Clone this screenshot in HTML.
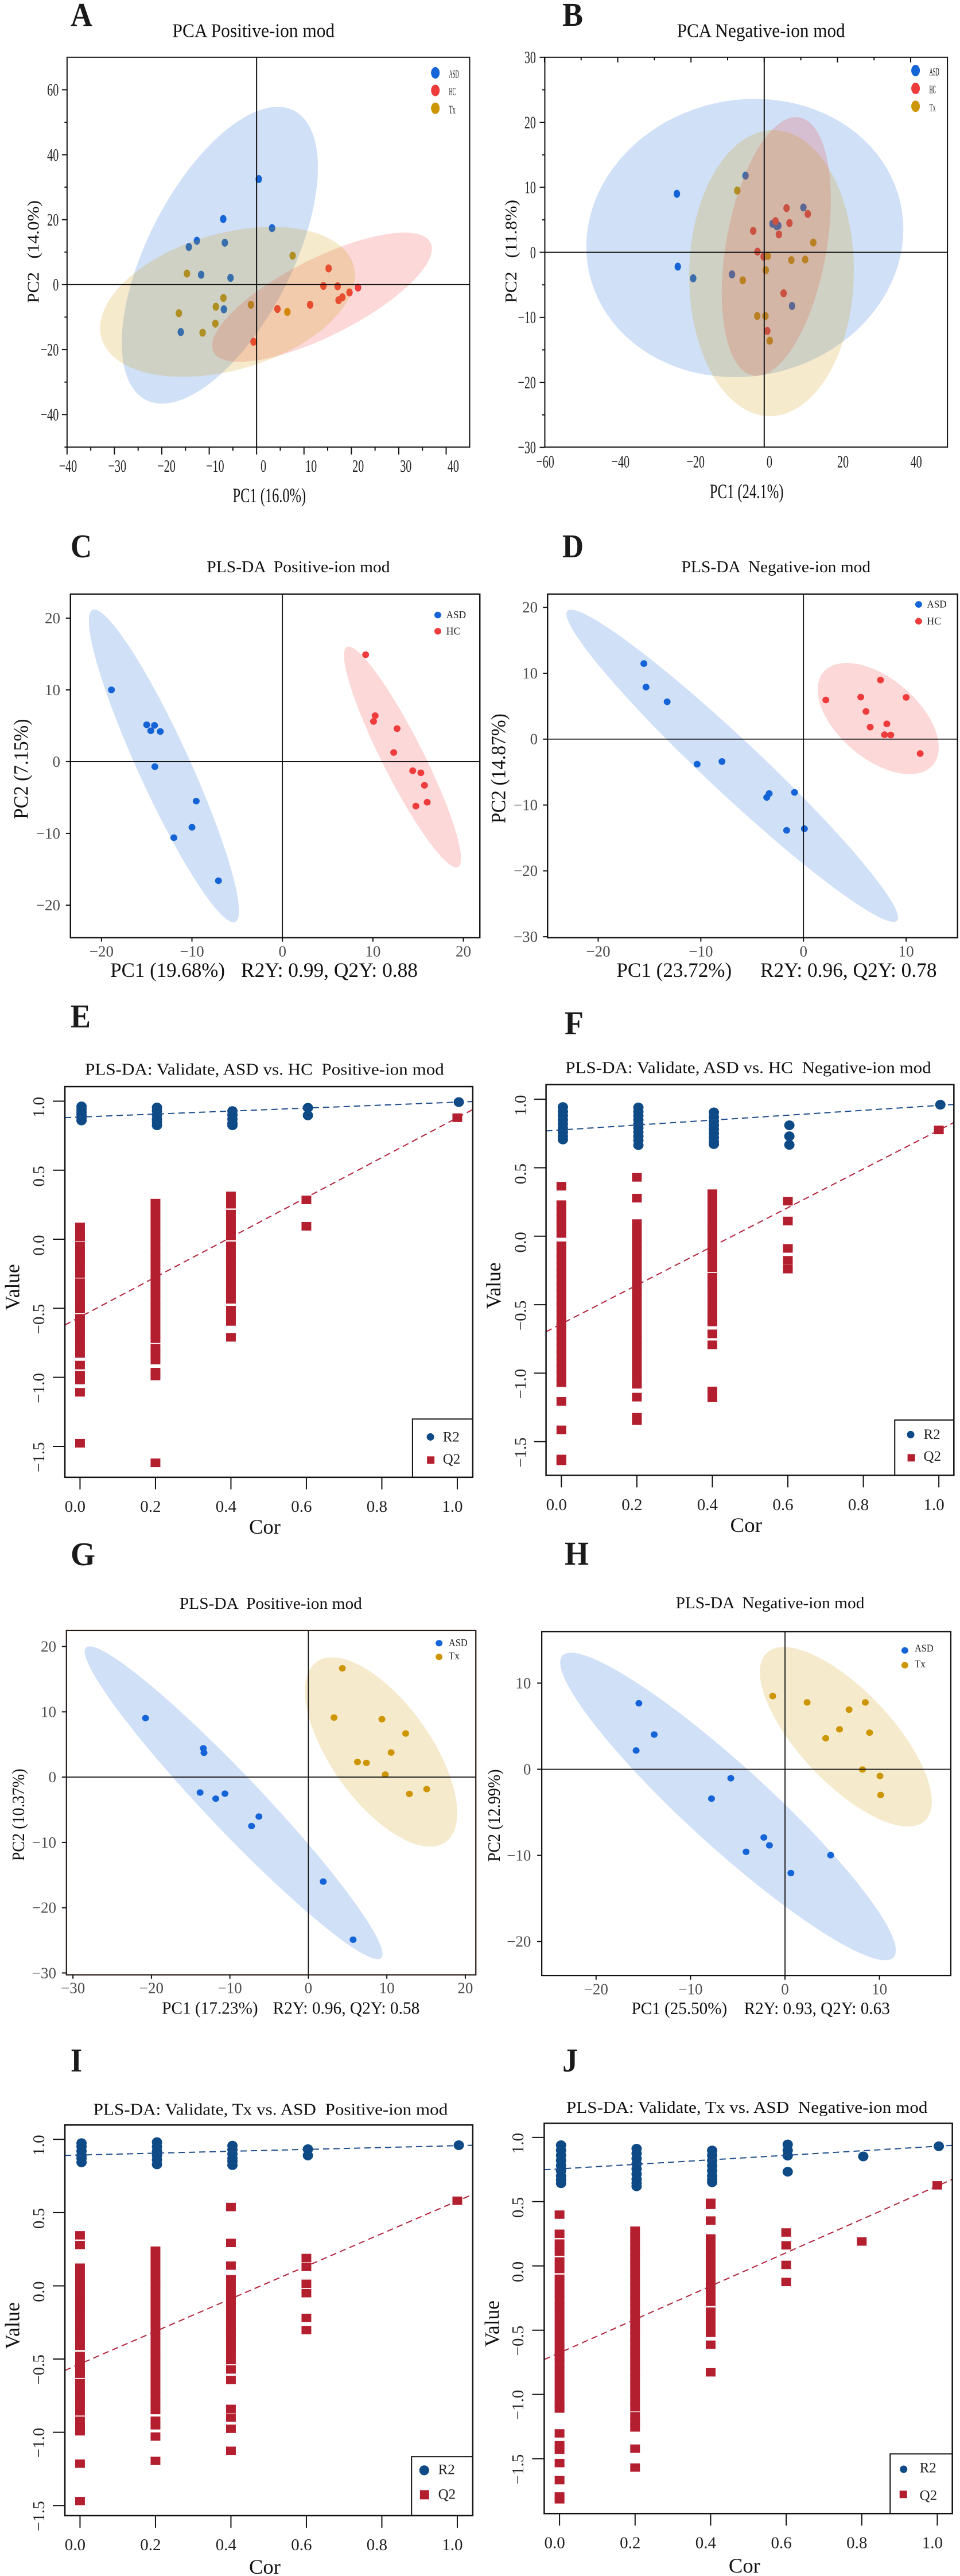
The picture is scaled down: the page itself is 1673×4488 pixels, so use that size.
<!DOCTYPE html>
<html lang="en">
<head>
<meta charset="utf-8">
<title>PCA and PLS-DA panels</title>
<style>
html,body{margin:0;padding:0;background:#fff;width:1673px;height:4488px;overflow:hidden}
svg{display:block;font-family:"Liberation Serif","Noto Serif CJK SC",serif}
text{fill:#111}
.letter{font-size:58px;font-weight:bold;fill:#1a1a1a}
.title{font-size:29px}
.axt{font-size:36px}
.leg{font-size:20px}
.leg2{font-size:18px;fill:#222}
.leg3{font-size:25px;fill:#222}
</style>
</head>
<body>
<svg id="figure" width="1673" height="4488" viewBox="0 0 1673 4488">
<rect width="1673" height="4488" fill="#fff"/>
<g id="plots"></g>
<g>
<text class="letter" x="123" y="45" textLength="38" lengthAdjust="spacingAndGlyphs">A</text>
<text class="letter" x="980" y="45" textLength="36" lengthAdjust="spacingAndGlyphs">B</text>
<text class="letter" x="123" y="971" textLength="37" lengthAdjust="spacingAndGlyphs">C</text>
<text class="letter" x="980" y="971" textLength="37" lengthAdjust="spacingAndGlyphs">D</text>
<text class="letter" x="123" y="1790" textLength="35" lengthAdjust="spacingAndGlyphs">E</text>
<text class="letter" x="984" y="1802" textLength="33" lengthAdjust="spacingAndGlyphs">F</text>
<text class="letter" x="123" y="2727" textLength="43" lengthAdjust="spacingAndGlyphs">G</text>
<text class="letter" x="984" y="2726" textLength="42" lengthAdjust="spacingAndGlyphs">H</text>
<text class="letter" x="123" y="3609" textLength="20" lengthAdjust="spacingAndGlyphs">I</text>
<text class="letter" x="980" y="3609" textLength="27" lengthAdjust="spacingAndGlyphs">J</text>
</g>
<g>
<text class="title" style="font-size:34px" x="300.5" y="64.6" textLength="282.7" lengthAdjust="spacingAndGlyphs">PCA Positive-ion mod</text>
<text class="title" style="font-size:34px" x="1179.6" y="64.6" textLength="293.2" lengthAdjust="spacingAndGlyphs">PCA Negative-ion mod</text>
<text class="title" xml:space="preserve" style="white-space:pre" x="360.3" y="997.2" textLength="319.3" lengthAdjust="spacingAndGlyphs">PLS-DA  Positive-ion mod</text>
<text class="title" xml:space="preserve" style="white-space:pre" x="1187.6" y="997.2" textLength="329.5" lengthAdjust="spacingAndGlyphs">PLS-DA  Negative-ion mod</text>
<text class="title" xml:space="preserve" style="white-space:pre" x="148.1" y="1872.3" textLength="625.7" lengthAdjust="spacingAndGlyphs">PLS-DA: Validate, ASD vs. HC  Positive-ion mod</text>
<text class="title" xml:space="preserve" style="white-space:pre" x="985.2" y="1869.4" textLength="637.6" lengthAdjust="spacingAndGlyphs">PLS-DA: Validate, ASD vs. HC  Negative-ion mod</text>
<text class="title" xml:space="preserve" style="white-space:pre" x="312.9" y="2803" textLength="318" lengthAdjust="spacingAndGlyphs">PLS-DA  Positive-ion mod</text>
<text class="title" xml:space="preserve" style="white-space:pre" x="1177.5" y="2801.9" textLength="328.9" lengthAdjust="spacingAndGlyphs">PLS-DA  Negative-ion mod</text>
<text class="title" xml:space="preserve" style="white-space:pre" x="162.6" y="3684.6" textLength="617.7" lengthAdjust="spacingAndGlyphs">PLS-DA: Validate, Tx vs. ASD  Positive-ion mod</text>
<text class="title" xml:space="preserve" style="white-space:pre" x="986.9" y="3681" textLength="629.6" lengthAdjust="spacingAndGlyphs">PLS-DA: Validate, Tx vs. ASD  Negative-ion mod</text>
</g>
<g>
<text class="axt" x="405.5" y="875" textLength="127.6" lengthAdjust="spacingAndGlyphs">PC1 (16.0%)</text>
<text class="axt" xml:space="preserve" style="font-size:28px;white-space:pre" transform="translate(67.3,527.9) rotate(-90)" textLength="178.8" lengthAdjust="spacingAndGlyphs">PC2   (14.0%)</text>
<text class="axt" x="1236.8" y="868.2" textLength="128.7" lengthAdjust="spacingAndGlyphs">PC1 (24.1%)</text>
<text class="axt" xml:space="preserve" style="font-size:28px;white-space:pre" transform="translate(899.8,527.9) rotate(-90)" textLength="180" lengthAdjust="spacingAndGlyphs">PC2   (11.8%)</text>
<text class="axt" x="192.2" y="1701.8" textLength="199.8" lengthAdjust="spacingAndGlyphs">PC1 (19.68%)</text>
<text class="axt" x="420" y="1701.8" textLength="308" lengthAdjust="spacingAndGlyphs">R2Y: 0.99, Q2Y: 0.88</text>
<text class="axt" transform="translate(48.5,1426.9) rotate(-90)" textLength="174.4" lengthAdjust="spacingAndGlyphs">PC2 (7.15%)</text>
<text class="axt" x="1074.4" y="1701.8" textLength="200.8" lengthAdjust="spacingAndGlyphs">PC1 (23.72%)</text>
<text class="axt" x="1324.9" y="1701.8" textLength="307.6" lengthAdjust="spacingAndGlyphs">R2Y: 0.96, Q2Y: 0.78</text>
<text class="axt" transform="translate(880.6,1434.6) rotate(-90)" textLength="191.3" lengthAdjust="spacingAndGlyphs">PC2 (14.87%)</text>
<text class="axt" x="434" y="2672" textLength="54.9" lengthAdjust="spacingAndGlyphs">Cor</text>
<text class="axt" transform="translate(33.4,2283) rotate(-90)" textLength="80.8" lengthAdjust="spacingAndGlyphs">Value</text>
<text class="axt" x="1272.5" y="2669" textLength="55.5" lengthAdjust="spacingAndGlyphs">Cor</text>
<text class="axt" transform="translate(872,2280.2) rotate(-90)" textLength="80.8" lengthAdjust="spacingAndGlyphs">Value</text>
<text class="axt" style="font-size:31px" x="282.2" y="3508.3" textLength="167.5" lengthAdjust="spacingAndGlyphs">PC1 (17.23%)</text>
<text class="axt" style="font-size:31px" x="475.5" y="3508.3" textLength="255.8" lengthAdjust="spacingAndGlyphs">R2Y: 0.96, Q2Y: 0.58</text>
<text class="axt" style="font-size:31px" transform="translate(42,3242.3) rotate(-90)" textLength="160.8" lengthAdjust="spacingAndGlyphs">PC2 (10.37%)</text>
<text class="axt" style="font-size:31px" x="1100.6" y="3509" textLength="166.6" lengthAdjust="spacingAndGlyphs">PC1 (25.50%)</text>
<text class="axt" style="font-size:31px" x="1296.6" y="3509" textLength="254.2" lengthAdjust="spacingAndGlyphs">R2Y: 0.93, Q2Y: 0.63</text>
<text class="axt" style="font-size:31px" transform="translate(871,3243.3) rotate(-90)" textLength="160.8" lengthAdjust="spacingAndGlyphs">PC2 (12.99%)</text>
<text class="axt" x="434" y="4484" textLength="54.9" lengthAdjust="spacingAndGlyphs">Cor</text>
<text class="axt" transform="translate(33.4,4093) rotate(-90)" textLength="82" lengthAdjust="spacingAndGlyphs">Value</text>
<text class="axt" x="1269.9" y="4482" textLength="55" lengthAdjust="spacingAndGlyphs">Cor</text>
<text class="axt" transform="translate(869.4,4088.8) rotate(-90)" textLength="80.8" lengthAdjust="spacingAndGlyphs">Value</text>
</g>
<g id="legend-labels">
<text class="leg" x="782.5" y="135.6" textLength="17.2" lengthAdjust="spacingAndGlyphs">ASD</text>
<text class="leg" x="782.5" y="166.1" textLength="11.8" lengthAdjust="spacingAndGlyphs">HC</text>
<text class="leg" x="782.5" y="197.3" textLength="11.3" lengthAdjust="spacingAndGlyphs">Tx</text>
<text class="leg" x="1619.6" y="131.5" textLength="17.1" lengthAdjust="spacingAndGlyphs">ASD</text>
<text class="leg" x="1619.6" y="162.7" textLength="11.2" lengthAdjust="spacingAndGlyphs">HC</text>
<text class="leg" x="1619.6" y="193.8" textLength="11.2" lengthAdjust="spacingAndGlyphs">Tx</text>
<text class="leg2" x="777.6" y="1077.2" textLength="34.5" lengthAdjust="spacingAndGlyphs">ASD</text>
<text class="leg2" x="777.6" y="1105.4" textLength="24.8" lengthAdjust="spacingAndGlyphs">HC</text>
<text class="leg2" x="1615.4" y="1058.7" textLength="34.2" lengthAdjust="spacingAndGlyphs">ASD</text>
<text class="leg2" x="1615.4" y="1087.9" textLength="24.6" lengthAdjust="spacingAndGlyphs">HC</text>
<text class="leg2" x="781.9" y="2868.2" textLength="32.8" lengthAdjust="spacingAndGlyphs">ASD</text>
<text class="leg2" x="781.9" y="2891" textLength="18.8" lengthAdjust="spacingAndGlyphs">Tx</text>
<text class="leg2" x="1594" y="2877.4" textLength="32.6" lengthAdjust="spacingAndGlyphs">ASD</text>
<text class="leg2" x="1594" y="2905.2" textLength="18.7" lengthAdjust="spacingAndGlyphs">Tx</text>
<text class="leg3" x="771.7" y="2511.5">R2</text>
<text class="leg3" x="771.7" y="2550.2">Q2</text>
<text class="leg3" x="1609.5" y="2506.9">R2</text>
<text class="leg3" x="1609.5" y="2545">Q2</text>
<text class="leg3" x="763.6" y="4310.6">R2</text>
<text class="leg3" x="763.6" y="4353.7">Q2</text>
<text class="leg3" x="1602.6" y="4307.5">R2</text>
<text class="leg3" x="1602.6" y="4355.5">Q2</text>
</g>
</svg>
<script>
/* ---------- axis tick values ---------- */
const xTicksA=[-40,-30,-20,-10,0,10,20,30,40];
const yTicksA=[-40,-20,0,20,40,60];
const xTicksB=[-60,-40,-20,0,20,40];
const yTicksB=[-30,-20,-10,0,10,20,30];
const xTicksC=[-20,-10,0,10,20];
const yTicksC=[-20,-10,0,10,20];
const xTicksD=[-20,-10,0,10];
const yTicksD=[-30,-20,-10,0,10,20];
const xTicksG=[-30,-20,-10,0,10,20];
const yTicksG=[-30,-20,-10,0,10,20];
const xTicksH=[-20,-10,0,10];
const yTicksH=[-20,-10,0,10];
const corLevels=[0,0.2,0.4,0.6,0.8,1];
const valueTicksE=[-1.5,-1,-0.5,0,0.5,1];

/* ---------- PCA positive (A) ---------- */
const aAsdX=[0.46,-7.04,3.26,-12.6,-6.7,-14.3,-11.7,-5.5,-6.9,-16.0];
const aAsdY=[32.5,20.2,17.4,13.5,12.9,11.6,3.05,2.1,-7.6,-14.6];
const aHcX=[15.2,14.1,17.1,21.4,19.6,18.1,17.3,11.3,4.4,-0.65];
const aHcY=[5.0,-0.4,-0.5,-0.9,-2.4,-3.9,-4.8,-6.2,-7.5,-17.6];
const aTxX=[7.6,-14.7,-7.0,-8.6,-16.4,-1.2,6.5,-8.7,-11.4];
const aTxY=[8.9,3.4,-4.1,-6.8,-8.8,-6.2,-8.4,-12.0,-14.8];
const aAsdEllipse=[-7.76,9.06,20.7,45.7,0.59];
const aHcEllipse=[13.8,-3.87,23.2,19.9,0.75];
const aTxEllipse=[-6.13,-5.3,26.9,23.1,0.35];

/* ---------- PCA negative (B) ---------- */
const bAsdX=[-5.1,-23.85,10.7,2.26,3.43,3.85,-23.6,-19.4,-8.8,7.6];
const bAsdY=[11.8,9.0,6.9,4.4,4.0,4.1,-2.2,-4.0,-3.4,-8.25];
const bHcX=[6.1,11.9,3.1,6.9,-3.0,4.0,-1.84,-0.17,5.3,0.84];
const bHcY=[6.8,5.9,4.8,4.5,3.3,2.75,0.1,-0.66,-6.3,-12.1];
const bTxX=[-7.36,13.4,1.0,7.4,11.2,0.42,-5.86,-1.9,0.33,1.5];
const bTxY=[9.5,1.5,-0.56,-1.2,-1.1,-2.75,-4.3,-9.8,-9.8,-13.6];
const bAsdEllipse=[-5.3,2.2,43.3,21.4,0.063];
const bHcEllipse=[3.3,0.9,14.9,19.9,0.36];
const bTxEllipse=[2.0,-3.2,22.5,22.0,0.02];

/* ---------- PLS-DA ASD vs HC positive (C) ---------- */
const cAsdX=[-18.9,-15.0,-14.14,-14.55,-13.5,-14.1,-9.53,-10.0,-12.0,-7.07];
const cAsdY=[10.0,5.13,5.05,4.3,4.2,-0.7,-5.5,-9.15,-10.6,-16.6];
const cHcX=[9.2,10.25,10.07,12.67,12.3,14.4,15.3,15.7,16.0,14.75];
const cHcY=[14.9,6.4,5.6,4.6,1.27,-1.27,-1.56,-3.3,-5.66,-6.2];
const cAsdEllipse=[-13.1,-0.6,8.3,21.8,-0.926];
const cHcEllipse=[13.27,0.64,6.47,15.4,-0.92];

/* ---------- PLS-DA ASD vs HC negative (D) ---------- */
const dAsdX=[-15.55,-15.34,-13.28,-10.36,-7.94,-3.34,-3.58,-0.87,-1.64,0.09];
const dAsdY=[11.47,7.9,5.67,-3.8,-3.4,-8.26,-8.84,-8.08,-13.84,-13.6];
const dHcX=[7.5,2.18,5.58,10.0,6.09,8.12,6.5,7.9,8.5,11.37];
const dHcY=[8.97,5.94,6.38,6.34,4.2,2.32,1.83,0.67,0.63,-2.19];
const dAsdEllipse=[-6.94,-4.04,16.16,23.7,-0.972];
const dHcEllipse=[7.28,3.125,5.9,8.44,-0.52];

/* ---------- PLS-DA ASD vs Tx positive (G) ---------- */
const gAsdX=[-20.75,-13.39,-13.3,-13.8,-11.8,-10.63,-6.3,-7.24,1.89,5.7];
const gAsdY=[9.04,4.41,3.73,-2.36,-3.3,-2.53,-6.04,-7.5,-16.0,-24.9];
const gTxX=[4.33,3.27,9.37,12.4,10.55,6.26,7.4,9.8,15.08,12.87];
const gTxY=[16.66,9.12,8.87,6.68,3.77,2.31,2.18,0.39,-1.84,-2.57];
const gAsdEllipse=[-9.53,-3.92,18.98,23.96,-0.967];
const gTxEllipse=[9.27,3.85,9.7,14.5,-0.643];

/* ---------- PLS-DA ASD vs Tx negative (H) ---------- */
const hAsdX=[-15.47,-13.85,-15.76,-5.74,-7.78,-2.24,-1.65,-4.12,4.83,0.62];
const hAsdY=[7.66,4.03,2.18,-1.04,-3.41,-7.92,-8.83,-9.58,-9.97,-12.05];
const hTxX=[-1.3,2.34,8.5,6.78,5.77,8.95,4.31,8.2,10.05,10.12];
const hTxY=[8.5,7.76,7.76,6.92,4.64,4.25,3.6,-0.03,-0.78,-2.99];
const hAsdEllipse=[-6.03,-4.32,17.77,17.86,-0.936];
const hTxEllipse=[6.44,3.77,9.1,10.42,-0.722];

/* ---------- permutation validation: one list per Cor level ---------- */
const eR2=[[0.962,0.94,0.92,0.9,0.88,0.86],[0.954,0.93,0.9,0.87,0.85,0.825],[0.928,0.9,0.87,0.84,0.825],[0.952,0.897],[],[0.993]];
const eQ2=[
[0.089,0.045,0.019,-0.048,-0.098,-0.148,-0.198,-0.248,-0.315,-0.365,-0.415,-0.465,-0.505,-0.573,-0.623,-0.673,-0.723,-0.773,-0.827,-0.911,-0.986,-1.019,-1.108,-1.477],
[0.261,0.21,0.16,0.11,0.06,0.01,-0.04,-0.09,-0.14,-0.19,-0.24,-0.29,-0.34,-0.39,-0.44,-0.49,-0.54,-0.59,-0.64,-0.69,-0.72,-0.789,-0.83,-0.875,-0.962,-0.99,-1.619],
[0.314,0.254,0.182,0.13,0.08,0.024,-0.048,-0.1,-0.15,-0.2,-0.25,-0.3,-0.35,-0.4,-0.435,-0.513,-0.56,-0.595,-0.71],
[0.285,0.094],[],[0.88]];
const eR2Line=[0.885,0.993];
const eQ2Line=[-0.563,0.88];

const fR2=[[0.943,0.91,0.88,0.85,0.82,0.79,0.76,0.73,0.706],[0.94,0.91,0.88,0.85,0.82,0.79,0.76,0.73,0.7,0.665],[0.904,0.87,0.84,0.81,0.78,0.75,0.72,0.69,0.672],[0.81,0.73,0.667],[],[0.96]];
const fQ2=[
[0.365,0.23,0.18,0.13,0.08,0.02,-0.07,-0.12,-0.17,-0.22,-0.27,-0.32,-0.37,-0.42,-0.47,-0.52,-0.57,-0.62,-0.67,-0.72,-0.77,-0.82,-0.87,-0.92,-0.97,-1.02,-1.069,-1.206,-1.414,-1.627,-1.64],
[0.43,0.278,0.092,0.04,-0.01,-0.06,-0.11,-0.16,-0.21,-0.26,-0.31,-0.36,-0.41,-0.46,-0.51,-0.56,-0.61,-0.66,-0.71,-0.76,-0.81,-0.86,-0.91,-0.96,-1.01,-1.06,-1.081,-1.175,-1.322,-1.347],
[0.31,0.26,0.21,0.16,0.11,0.06,0.01,-0.04,-0.09,-0.14,-0.19,-0.23,-0.3,-0.35,-0.4,-0.45,-0.5,-0.55,-0.6,-0.626,-0.713,-0.793,-1.13,-1.18],
[0.256,0.111,-0.089,-0.176,-0.24],[],[0.776]];
const fR2Line=[0.776,0.955];
const fQ2Line=[-0.64,0.774];

const iR2=[[0.974,0.95,0.92,0.89,0.87,0.843],[0.981,0.95,0.92,0.89,0.86,0.829],[0.957,0.93,0.9,0.87,0.85,0.824],[0.933,0.89],[],[0.96]];
const iQ2=[
[0.345,0.279,0.124,0.08,0.035,-0.01,-0.055,-0.1,-0.145,-0.19,-0.235,-0.28,-0.325,-0.37,-0.41,-0.479,-0.53,-0.575,-0.6,-0.664,-0.71,-0.755,-0.8,-0.857,-0.921,-0.97,-0.993,-1.214,-1.469],
[0.24,0.195,0.15,0.105,0.06,0.015,-0.03,-0.075,-0.12,-0.165,-0.21,-0.255,-0.3,-0.345,-0.39,-0.435,-0.48,-0.525,-0.57,-0.615,-0.66,-0.705,-0.75,-0.795,-0.848,-0.921,-0.952,-1.029,-1.195],
[0.538,0.293,0.138,0.045,0,-0.045,-0.09,-0.135,-0.18,-0.225,-0.27,-0.315,-0.36,-0.405,-0.45,-0.507,-0.571,-0.643,-0.84,-0.9,-0.976,-1.126],
[0.19,0.129,0.014,-0.05,-0.219,-0.302],[],[0.581]];
const iR2Line=[0.893,0.957];
const iQ2Line=[-0.533,0.579];

const jR2=[[0.939,0.9,0.86,0.82,0.78,0.74,0.7,0.67,0.643],[0.912,0.875,0.835,0.795,0.755,0.715,0.675,0.645,0.619],[0.898,0.86,0.82,0.78,0.74,0.7,0.67,0.651],[0.945,0.9,0.858,0.733],[0.852],[0.931]];
const jQ2=[
[0.399,0.25,0.174,0.111,0.035,-0.024,-0.1,-0.155,-0.21,-0.265,-0.32,-0.375,-0.43,-0.485,-0.54,-0.595,-0.65,-0.705,-0.76,-0.815,-0.87,-0.925,-0.98,-1.035,-1.085,-1.11,-1.303,-1.395,-1.43,-1.534,-1.667,-1.794,-1.816],
[0.274,0.22,0.165,0.11,0.055,0,-0.055,-0.11,-0.165,-0.22,-0.275,-0.33,-0.385,-0.44,-0.495,-0.55,-0.605,-0.66,-0.715,-0.77,-0.825,-0.88,-0.935,-0.99,-1.045,-1.1,-1.17,-1.22,-1.257,-1.422,-1.569],
[0.491,0.475,0.353,0.214,0.16,0.105,0.05,-0.005,-0.06,-0.115,-0.17,-0.225,-0.28,-0.356,-0.41,-0.465,-0.521,-0.613,-0.828],
[0.26,0.16,0.008,-0.125],[0.19],[0.627]];
const jR2Line=[0.755,0.931];
const jQ2Line=[-0.676,0.622];

/* ---------- colours ---------- */
const BLUE='#1565d8',RED='#ee3b3b',GOLD='#cd9600';
const BLUEF='rgba(21,101,216,.2)',REDF='rgba(238,59,59,.2)',GOLDF='rgba(205,150,0,.2)';
const NAVY='#0e4a86',CRIM='#b41f30';

/* ---------- helpers ---------- */
const svg=document.getElementById('figure');
const plots=document.getElementById('plots');
function mk(tag,attrs,parent){
  const el=document.createElementNS(svg.namespaceURI,tag);
  for(const k in attrs){el.setAttribute(k,attrs[k]);}
  parent.appendChild(el);
  return el;
}
function frame(p){
  const sx=p.w/1560,sy=p.h/1560;
  const zx=z=>p.ox+z*sx, zy=z=>p.oy+z*sy;
  const left=zx(p.L),right=zx(p.R),top=zy(p.T),bottom=zy(p.B);
  const X=v=>left+(v-p.xd[0])/(p.xd[1]-p.xd[0])*(right-left);
  const Y=v=>bottom-(v-p.yd[0])/(p.yd[1]-p.yd[0])*(bottom-top);
  return {sx,sy,zx,zy,left,right,top,bottom,X,Y};
}
function tickMark(g,x1,y1,x2,y2,w,color){
  const t=mk('line',{x1:x1,y1:y1,x2:x2,y2:y2,stroke:color,'stroke-width':w},g);
  
  
}
function tickText(g,str,x,y,size,color,anchor,xs,rot){
  const t=mk('text',{'text-anchor':anchor,'font-size':size,style:'fill:'+color},g);
  
  
  let tf='translate('+x+','+y+')';
  if(rot){tf+=' rotate(-90)';}
  if(xs){tf+=' scale('+xs+',1)';}
  t.setAttribute('transform',tf);
  t.textContent=str;
}
function fmt(v){return String(v).replace('-','\u2212');}
function fmt1(v){return v.toFixed(1).replace('-','\u2212');}
function box(g,f,color,w){
  const r=mk('rect',{x:f.left,y:f.top,width:f.right-f.left,height:f.bottom-f.top,fill:'none',stroke:color,'stroke-width':w},g);
  
  
}
function ellipsePath(f,e){
  const cx=e[0],cy=e[1],rx=e[2],ry=e[3],rho=e[4],q=Math.sqrt(1-rho*rho);
  let d='';
  for(let i=0;i<96;i++){
    const t=i/96*2*Math.PI;
    const x=cx+rx*Math.cos(t);
    const y=cy+ry*(rho*Math.cos(t)+q*Math.sin(t));
    d+=(i?'L':'M')+f.X(x).toFixed(1)+' '+f.Y(y).toFixed(1);
  }
  return d+'Z';
}

/* ---------- scatter panel ---------- */
function scatter(p){
  const f=frame(p);
  const g=mk('g',{},plots);
  
  
  p.groups.forEach(s=>{
    s.x.forEach((v,i)=>{
      const c=mk('ellipse',{cx:f.X(v),cy:f.Y(s.y[i]),rx:p.rx,ry:p.ry,fill:s.color},g);
      
      
    });
  });
  p.groups.forEach(s=>{
    const e=mk('path',{d:ellipsePath(f,s.ell),fill:s.fill},g);
    
    
  });
  const v0=mk('line',{x1:f.X(0),x2:f.X(0),y1:f.top,y2:f.bottom,stroke:'#111','stroke-width':p.zeroW},g);
  
  
  const h0=mk('line',{x1:f.left,x2:f.right,y1:f.Y(0),y2:f.Y(0),stroke:'#111','stroke-width':p.zeroW},g);
  
  
  box(g,f,p.frameColor,p.frameW);
  p.xTicks.forEach((v,i)=>{
    if(p.xSide==='top'){tickMark(g,f.X(v),f.top,f.X(v),f.top+p.xLen,2,'#111');}
    else{tickMark(g,f.X(v),f.bottom,f.X(v),f.bottom+p.xLen,2,'#111');}
    const off=p.xOff?p.xOff[i]:0;
    tickText(g,fmt(v),f.X(v)+off*f.sx,f.zy(p.xBase),p.fs,p.tickColor,'middle',p.xs,false);
  });
  (p.xMinor||[]).forEach(v=>{
    if(p.xSide==='top'){tickMark(g,f.X(v),f.top,f.X(v),f.top+p.xLen*.6,2,'#111');}
    else{tickMark(g,f.X(v),f.bottom,f.X(v),f.bottom+p.xLen*.5,2,'#111');}
  });
  p.yTicks.forEach(v=>{
    tickMark(g,f.left-p.yLen,f.Y(v),f.left,f.Y(v),2,'#111');
    tickText(g,fmt(v),f.zx(p.yRight),f.Y(v)+p.fs*.33,p.fs,p.tickColor,'end',p.xs,false);
  });
  (p.yMinor||[]).forEach(v=>{tickMark(g,f.left-p.yLen*.5,f.Y(v),f.left,f.Y(v),2,'#111');});
  p.legend.forEach(l=>{
    const c=mk('ellipse',{cx:f.zx(l[0]),cy:f.zy(l[1]),rx:p.legRx,ry:p.legRy,fill:l[2]},g);
    
    
  });
}

/* ---------- validation panel ---------- */
function validate(p){
  const f=frame(p);
  const g=mk('g',{},plots);
  
  
  const w=17,h=p.sqH;
  p.q2.forEach((col,i)=>{
    col.forEach(v=>{
      const r=mk('rect',{x:f.X(corLevels[i])-w/2,y:f.Y(v)-h/2,width:w,height:h,fill:CRIM},g);
      
      
    });
  });
  p.r2.forEach((col,i)=>{
    col.forEach(v=>{
      const c=mk('ellipse',{cx:f.X(corLevels[i]+0.004),cy:f.Y(v),rx:9,ry:8.5,fill:NAVY},g);
      
      
    });
  });
  const lineAt=(ln,x)=>ln[0]+(ln[1]-ln[0])*x;
  const r2l=mk('line',{x1:f.left,x2:f.right,y1:f.Y(lineAt(p.r2Line,p.xd[0])),y2:f.Y(lineAt(p.r2Line,p.xd[1])),stroke:'#1d4d8c','stroke-width':2,'stroke-dasharray':'11 7'},g);
  
  
  const q2l=mk('line',{x1:f.left,x2:f.right,y1:f.Y(lineAt(p.q2Line,p.xd[0])),y2:f.Y(lineAt(p.q2Line,p.xd[1])),stroke:'#b2233a','stroke-width':2,'stroke-dasharray':'11 7'},g);
  
  
  const lb=mk('rect',{x:f.zx(p.legL),y:f.zy(p.legT),width:f.right-f.zx(p.legL),height:f.bottom-f.zy(p.legT),fill:'#fff',stroke:'#111','stroke-width':2},g);
  
  
  const ld=mk('circle',{cx:f.zx(p.legDot[0]),cy:f.zy(p.legDot[1]),r:p.legR,fill:NAVY},g);
  
  
  const ls=mk('rect',{x:f.zx(p.legSq[0])-p.legS/2,y:f.zy(p.legSq[1])-p.legS/2,width:p.legS,height:p.legS,fill:CRIM},g);
  
  
  box(g,f,'#111',2.5);
  corLevels.forEach(v=>{
    tickMark(g,f.X(v),f.bottom,f.X(v),f.bottom+21,2,'#111');
    tickText(g,fmt1(v),f.X(v)-16*f.sx,f.zy(p.xBase),29,'#222','middle',0,false);
  });
  valueTicksE.forEach(v=>{
    tickMark(g,f.left-21,f.Y(v),f.left,f.Y(v),2,'#111');
    tickText(g,fmt1(v),f.zx(p.yBase),f.Y(v)-13*f.sy,29,'#222','end',0,true);
  });
}

/* ---------- panels ---------- */
scatter({id:'a',ox:0,oy:0,w:840,h:900,L:217,R:1520,T:173,B:1350,xd:[-40,44.96],yd:[-50,70],
 rx:5.6,ry:7,zeroW:2,frameW:2,frameColor:'#111',tickColor:'#222',fs:31,xs:0.65,
 xTicks:xTicksA,yTicks:yTicksA,xMinor:[-35,-25,-15,-5,5,15,25,35],yMinor:[-50,-30,-10,10,30,50],xLen:13,yLen:9,
 xOff:[3,9,15,19,22,23,22,23,23],xBase:1425,yRight:190,legRx:7.5,legRy:10,
 legend:[[1409,220,BLUE],[1409,273,RED],[1409,327,GOLD]],
 groups:[{key:'asd',x:aAsdX,y:aAsdY,color:BLUE,ell:aAsdEllipse,fill:BLUEF},{key:'hc',x:aHcX,y:aHcY,color:RED,ell:aHcEllipse,fill:REDF},{key:'tx',x:aTxX,y:aTxY,color:GOLD,ell:aTxEllipse,fill:GOLDF}]});
scatter({id:'b',ox:840,oy:0,w:833,h:900,L:205,R:1519,T:173,B:1350,xd:[-59.92,50.04],yd:[-29.95,30],
 rx:5.6,ry:7,zeroW:2,frameW:2,frameColor:'#111',tickColor:'#222',fs:31,xs:0.65,
 xTicks:xTicksB,yTicks:yTicksB,xMinor:[-50,-30,-10,10,30],yMinor:[-25,-15,-5,5,15,25],xSide:'top',xLen:9,yLen:9,
 xOff:[2,9,15,17,18,18],xBase:1412,yRight:176,legRx:7.5,legRy:10,
 legend:[[1415,213,BLUE],[1415,267,RED],[1415,321,GOLD]],
 groups:[{key:'asd',x:bAsdX,y:bAsdY,color:BLUE,ell:bAsdEllipse,fill:BLUEF},{key:'hc',x:bHcX,y:bHcY,color:RED,ell:bHcEllipse,fill:REDF},{key:'tx',x:bTxX,y:bTxY,color:GOLD,ell:bTxEllipse,fill:GOLDF}]});
scatter({id:'c',ox:0,oy:950,w:840,h:800,L:228,R:1553,T:166,B:1333,xd:[-23.43,21.82],yd:[-24.53,23.34],
 rx:6,ry:5.8,zeroW:1.8,frameW:2.4,frameColor:'#111',tickColor:'#4d4d4d',fs:27,
 xTicks:xTicksC,yTicks:yTicksC,xLen:7,yLen:8,xBase:1397,yRight:195,legRx:6,legRy:5.8,
 legend:[[1417,237,BLUE],[1417,292,RED]],
 groups:[{key:'asd',x:cAsdX,y:cAsdY,color:BLUE,ell:cAsdEllipse,fill:BLUEF},{key:'hc',x:cHcX,y:cHcY,color:RED,ell:cHcEllipse,fill:REDF}]});
scatter({id:'d',ox:840,oy:950,w:833,h:800,L:214,R:1552,T:166,B:1333,xd:[-24.93,15.01],yd:[-30.13,22.01],
 rx:6,ry:5.8,zeroW:1.8,frameW:2.4,frameColor:'#111',tickColor:'#4d4d4d',fs:27,
 xTicks:xTicksD,yTicks:yTicksD,xLen:7,yLen:8,xBase:1397,yRight:182,legRx:6,legRy:5.8,
 legend:[[1425,201,BLUE],[1425,258,RED]],
 groups:[{key:'asd',x:dAsdX,y:dAsdY,color:BLUE,ell:dAsdEllipse,fill:BLUEF},{key:'hc',x:dHcX,y:dHcY,color:RED,ell:dHcEllipse,fill:REDF}]});
validate({id:'e',ox:0,oy:1780,w:840,h:900,L:210,R:1530,T:196,B:1376,xd:[-0.0401,1.0409],yd:[-1.724,1.1055],
 r2:eR2,q2:eQ2,r2Line:eR2Line,q2Line:eQ2Line,sqH:15,xBase:1480,yBase:143,legL:1335,legT:1200,legDot:[1393,1254],legSq:[1394,1324],legR:6.5,legS:13});
validate({id:'f',ox:840,oy:1780,w:833,h:900,L:209,R:1540,T:190,B:1370,xd:[-0.0406,1.0398],yd:[-1.746,1.107],
 r2:fR2,q2:fQ2,r2Line:fR2Line,q2Line:fQ2Line,sqH:15,xBase:1475,yBase:143,legL:1347,legT:1203,legDot:[1399,1247],legSq:[1401,1317],legR:6.5,legS:13});
scatter({id:'g',ox:0,oy:2760,w:840,h:760,L:215,R:1540,T:166,B:1397,xd:[-30.83,21.34],yd:[-30.28,22.44],
 rx:6,ry:5.6,zeroW:1.8,frameW:2.2,frameColor:'#231815',tickColor:'#4d4d4d',fs:27,
 xTicks:xTicksG,yTicks:yTicksG,xLen:7,yLen:8,xBase:1462,yRight:182,legRx:6,legRy:5.6,
 legend:[[1421,211,BLUE],[1421,260,GOLD]],
 groups:[{key:'asd',x:gAsdX,y:gAsdY,color:BLUE,ell:gAsdEllipse,fill:BLUEF},{key:'tx',x:gTxX,y:gTxY,color:GOLD,ell:gTxEllipse,fill:GOLDF}]});
scatter({id:'h',ox:840,oy:2760,w:833,h:760,L:195,R:1530,T:170,B:1400,xd:[-25.75,17.55],yd:[-23.96,15.97],
 rx:6,ry:5.6,zeroW:1.8,frameW:2.2,frameColor:'#111',tickColor:'#4d4d4d',fs:27,
 xTicks:xTicksH,yTicks:yTicksH,xLen:7,yLen:8,xBase:1467,yRight:160,legRx:6,legRy:5.6,
 legend:[[1380,237,BLUE],[1380,290,GOLD]],
 groups:[{key:'asd',x:hAsdX,y:hAsdY,color:BLUE,ell:hAsdEllipse,fill:BLUEF},{key:'tx',x:hTxX,y:hTxY,color:GOLD,ell:hTxEllipse,fill:GOLDF}]});
validate({id:'i',ox:0,oy:3540,w:840,h:948,L:210,R:1530,T:267,B:1387,xd:[-0.0401,1.0409],yd:[-1.569,1.098],
 r2:iR2,q2:iQ2,r2Line:iR2Line,q2Line:iQ2Line,sqH:14.6,xBase:1486,yBase:143,legL:1332,legT:1218,legDot:[1373,1257],legSq:[1374,1327],legR:8.6,legS:16});
validate({id:'j',ox:840,oy:3540,w:833,h:948,L:203,R:1535,T:262,B:1381,xd:[-0.0406,1.0398],yd:[-1.927,1.11],
 r2:jR2,q2:jQ2,r2Line:jR2Line,q2Line:jQ2Line,sqH:14.6,xBase:1480,yBase:135,legL:1332,legT:1210,legDot:[1376,1254],legSq:[1375,1326],legR:6.5,legS:13});
</script>
</body>
</html>
